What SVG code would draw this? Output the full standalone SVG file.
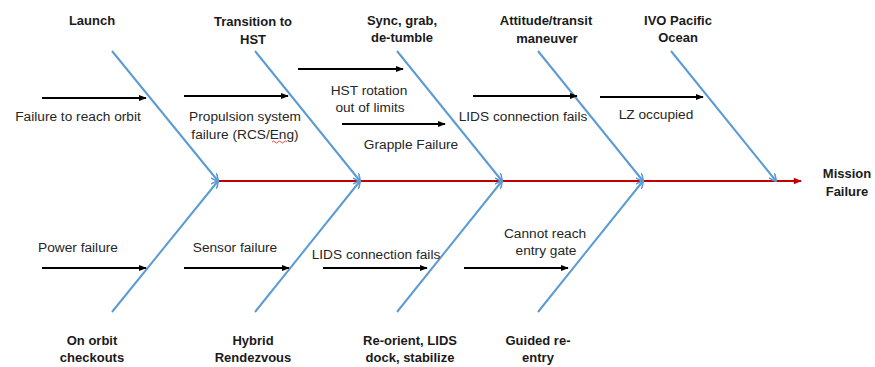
<svg xmlns="http://www.w3.org/2000/svg" width="875" height="367" viewBox="0 0 875 367">
<style>
.t{font-family:"Liberation Sans",Arial,sans-serif;font-size:13px;font-weight:bold;fill:#1a1a1a;text-anchor:middle}
.l{font-family:"Liberation Sans",Arial,sans-serif;font-size:13.7px;fill:#262626;text-anchor:middle}
.bone{stroke:#5b9bd5;stroke-width:2;fill:none;marker-end:url(#bh)}
.cause{stroke:#000;stroke-width:2;fill:none;marker-end:url(#kh)}
</style>
<defs>
<marker id="bh" viewBox="0 0 10 10" refX="9" refY="5" markerWidth="4" markerHeight="4" orient="auto" markerUnits="strokeWidth"><path d="M0,0 L10,5 L0,10" fill="none" stroke="#5b9bd5" stroke-width="2"/></marker>
<marker id="kh" viewBox="0 0 10 10" refX="9" refY="5" markerWidth="4" markerHeight="4" orient="auto" markerUnits="strokeWidth"><path d="M0,1 L10,5 L0,9 z" fill="#000"/></marker>
<marker id="rh" viewBox="0 0 10 10" refX="9" refY="5" markerWidth="4.5" markerHeight="4" orient="auto" markerUnits="strokeWidth"><path d="M0,1 L10,5 L0,9 z" fill="#c00000"/></marker>
</defs>
<rect width="875" height="367" fill="#fff"/>
<g id="connectors">
<line x1="218" y1="181" x2="801" y2="181" stroke="#c00000" stroke-width="2" marker-end="url(#rh)"/>
<line class="bone" x1="112" y1="51" x2="218" y2="181"/>
<line class="bone" x1="255" y1="51" x2="360" y2="181"/>
<line class="bone" x1="397" y1="51" x2="502" y2="181"/>
<line class="bone" x1="538" y1="51" x2="643" y2="181"/>
<line class="bone" x1="671" y1="51" x2="776" y2="181"/>
<line class="bone" x1="112" y1="312" x2="218" y2="181"/>
<line class="bone" x1="255" y1="312" x2="360" y2="181"/>
<line class="bone" x1="397" y1="312" x2="502" y2="181"/>
<line class="bone" x1="538" y1="312" x2="643" y2="181"/>
<line class="cause" x1="42" y1="98" x2="146" y2="98"/>
<line class="cause" x1="184" y1="96" x2="288" y2="96"/>
<line class="cause" x1="298" y1="69" x2="403" y2="69"/>
<line class="cause" x1="342" y1="124" x2="445" y2="124"/>
<line class="cause" x1="473" y1="96" x2="577" y2="96"/>
<line class="cause" x1="600" y1="97" x2="703" y2="97"/>
<line class="cause" x1="42" y1="268" x2="146" y2="268"/>
<line class="cause" x1="184" y1="268" x2="289" y2="268"/>
<line class="cause" x1="323" y1="268" x2="427" y2="268"/>
<line class="cause" x1="464" y1="268" x2="568" y2="268"/>
</g>
<g id="launch"><text class="t" x="92" y="25">Launch</text></g>
<g id="transition"><text class="t" x="253" y="26">Transition to</text><text class="t" x="253" y="44">HST</text></g>
<g id="sync"><text class="t" x="402" y="25">Sync, grab,</text><text class="t" x="402" y="42">de-tumble</text></g>
<g id="attitude"><text class="t" x="546" y="25">Attitude/transit</text><text class="t" x="547" y="43">maneuver</text></g>
<g id="ivo"><text class="t" x="678" y="25">IVO Pacific</text><text class="t" x="678" y="42">Ocean</text></g>
<g id="mission"><text class="t" x="847" y="178">Mission</text><text class="t" x="847" y="196">Failure</text></g>
<g id="onorbit"><text class="t" x="92" y="345">On orbit</text><text class="t" x="92" y="362">checkouts</text></g>
<g id="hybrid"><text class="t" x="253" y="345">Hybrid</text><text class="t" x="253" y="362">Rendezvous</text></g>
<g id="reorient"><text class="t" x="410" y="345">Re-orient, LIDS</text><text class="t" x="410" y="362">dock, stabilize</text></g>
<g id="guided"><text class="t" x="538" y="345">Guided re-</text><text class="t" x="538" y="362">entry</text></g>
<g id="cause-orbit"><text class="l" x="78" y="121">Failure to reach orbit</text></g>
<g id="cause-propulsion"><text class="l" x="245" y="121">Propulsion system</text><text class="l" x="245" y="139">failure (RCS/Eng)</text>
<path d="M272,142 q1.5,-2 3,0 t3,0 t3,0 t3,0 t3,0" fill="none" stroke="#e02020" stroke-width="0.8"/></g>
<g id="cause-rotation"><text class="l" x="369" y="95">HST rotation</text><text class="l" x="370" y="112">out of limits</text></g>
<g id="cause-grapple"><text class="l" x="411" y="149">Grapple Failure</text></g>
<g id="cause-lids-top"><text class="l" x="523" y="121">LIDS connection fails</text></g>
<g id="cause-lz"><text class="l" x="656" y="119">LZ occupied</text></g>
<g id="cause-power"><text class="l" x="78" y="252">Power failure</text></g>
<g id="cause-sensor"><text class="l" x="235" y="252">Sensor failure</text></g>
<g id="cause-lids-bottom"><text class="l" x="376" y="259">LIDS connection fails</text></g>
<g id="cause-gate"><text class="l" x="545" y="238">Cannot reach</text><text class="l" x="546" y="255">entry gate</text></g>
</svg>
